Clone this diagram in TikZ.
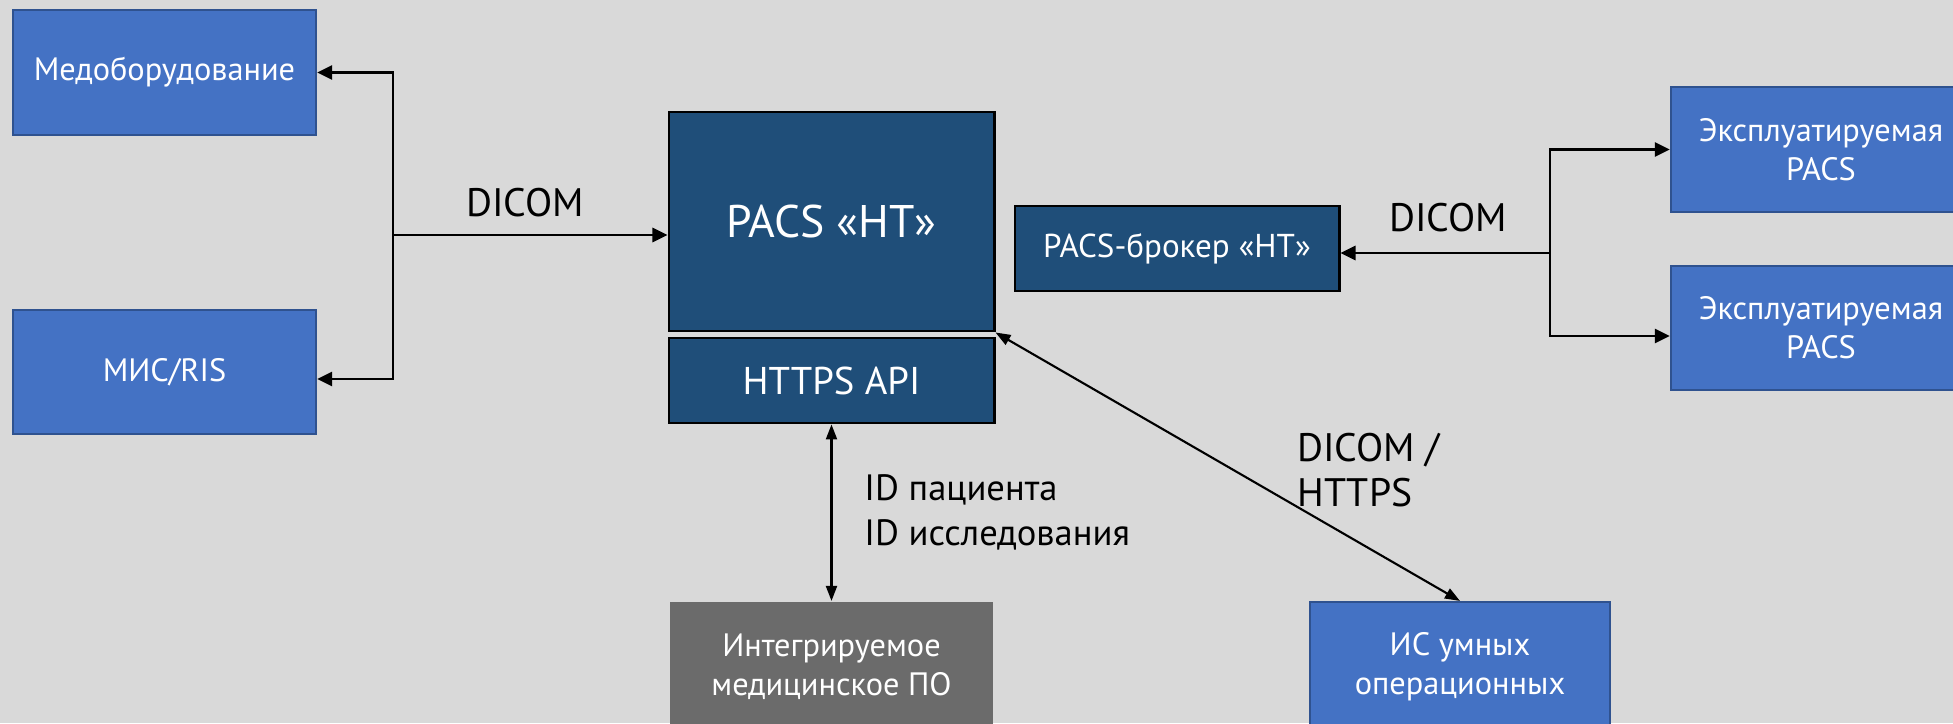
\documentclass[tikz,border=0pt]{standalone}
\usepackage{fontspec}
\setmainfont{PT Sans}
\usepackage{tikz}
\usetikzlibrary{positioning}
\usetikzlibrary{arrows.meta}

\definecolor{bggray}{HTML}{D9D9D9}
\definecolor{boxblue}{HTML}{4472C4}
\definecolor{edgeblue}{HTML}{2F528F}
\definecolor{coreblue}{HTML}{1F4E79}
\definecolor{intgray}{HTML}{6B6B6B}

\tikzset{
	sysbox/.style={draw=edgeblue, fill=boxblue, line width=0.6pt, text=white, align=center,
		minimum width=3.03cm, minimum height=1.25cm, font=\fontsize{9.2}{11}\selectfont},
	corebox/.style={draw=black, fill=coreblue, line width=0.8pt, text=white, align=center,
		minimum width=3.25cm},
	link/.style={line width=0.8pt, -{Triangle[length=0.15cm, width=0.14cm]}},
	duplex/.style={line width=0.6pt, {Triangle[length=0.15cm, width=0.11cm]}-{Triangle[length=0.15cm, width=0.11cm]}},
	lbl/.style={font=\fontsize{11.3}{12.8}\selectfont, align=left}
}

\begin{document}
\begin{tikzpicture}[x=0.01cm, y=-0.01cm]
			\useasboundingbox (0, 0) rectangle (1953, 723);
			\fill[bggray] (0, 0) rectangle (1953, 723);
			\clip (0, 0) rectangle (1953, 723);

			% left side
			\node[sysbox] (med) at (164.5, 72.5) {Медоборудование};
			\node[sysbox, minimum height=1.24cm] (mis) at (164.5, 372) {МИС/RIS};

			% core
			\node[corebox, minimum height=2.19cm, font=\fontsize{13}{15}\selectfont] (pacs) at (831.5, 221.5) {PACS «НТ»};
			\node[corebox, minimum height=0.85cm, font=\fontsize{11}{13}\selectfont] (api) at (831.5, 380.5) {HTTPS API};
			\node[corebox, minimum width=3.24cm, minimum height=0.85cm, font=\fontsize{9.4}{11}\selectfont] (broker) at (1177, 248.5) {PACS-брокер «НТ»};

			% right side
			\node[sysbox, minimum width=3cm] (exp1) at (1821, 149.5) {Эксплуатируемая\\PACS};
			\node[sysbox, minimum width=3cm, minimum height=1.24cm] (exp2) at (1821, 328) {Эксплуатируемая\\PACS};

			% bottom
			\node[sysbox, draw=none, fill=intgray, minimum width=3.23cm, minimum height=1.3cm] (integ) at (831.5, 667) {Интегрируемое\\медицинское ПО};
			\node[sysbox, minimum width=3cm, minimum height=1.3cm] (ic) at (1460, 667) {ИС умных\\операционных};

			% connectors
			\coordinate (jl) at (393, 235);
			\coordinate (jr) at (1550, 253);
			\draw[link] (jl) -- (jl -| pacs.west);
			\draw[link] (jl) |- (med.east);
			\draw[link] (jl) |- ([yshift=-0.07cm]mis.east);
			\draw[link] (jr) -- (jr -| broker.east);
			\draw[link] (jr) |- (exp1.west);
			\draw[link] (jr) |- ([yshift=-0.08cm]exp2.west);
			\draw[duplex] (api.south) -- (integ.north);
			\draw[duplex] (pacs.south east) -- (ic.north);

			\node[lbl] (dicomleft) at (525, 203) {DICOM};
			\node[lbl] (dicomright) at (1448, 218) {DICOM};
			\node[lbl, anchor=west, font=\fontsize{10.4}{12.8}\selectfont] (ids) at (852, 512) {ID пациента\\ID исследования};
			\node[lbl, anchor=west] (proto) at (1285, 470) {DICOM /\\HTTPS};
\end{tikzpicture}
\end{document}
